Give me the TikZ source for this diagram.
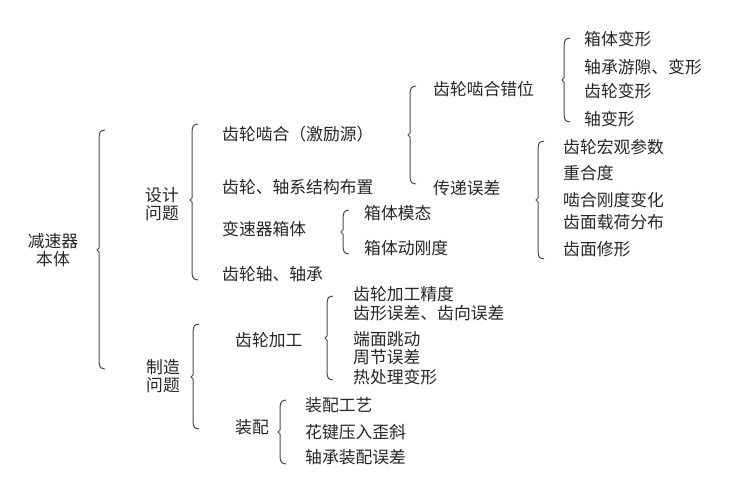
\documentclass[tikz,border=0pt]{standalone}
\usepackage{fontspec}
\newfontfamily\cjk{Noto Sans CJK SC}
\newcommand\hbrace[4]{\draw[brc] (#1+6,#2-2) .. controls (#1+1,#2-1) .. (#1,#2+5) -- (#1,#3-2) -- (#1-2,#3) -- (#1,#3+2) -- (#1,#4-5) .. controls (#1+1,#4+1) .. (#1+6,#4+2);}
\tikzset{
  lbl/.style={anchor=west,inner sep=0pt,text=black!85,font=\cjk\fontsize{16.8}{18}\selectfont},
  ctr/.style={anchor=center,inner sep=0pt,text=black!85,font=\cjk\fontsize{16.8}{18}\selectfont},
  brc/.style={draw=black!70,line width=1pt}
}
\begin{document}
\begin{tikzpicture}[x=1pt,y=-1pt]
\useasboundingbox[fill=white] (0,0) rectangle (733,482);
% level 0
\node[ctr] (root) at (53,241) {减速器};
\node[ctr] (root2) at (53,259) {本体};
\hbrace{99}{132}{250}{367}
% level 1
\node[ctr] (des) at (162,195) {设计};
\node[ctr] (des2) at (162,213) {问题};
\node[ctr] (man) at (163,367) {制造};
\node[ctr] (man2) at (163,385) {问题};
\hbrace{192}{126}{200}{278}
\hbrace{193}{326}{377}{427}
% design items
\node[lbl] (d1) at (222,134) {齿轮啮合（激励源）};
\node[lbl] (d2) at (222,187) {齿轮、轴系结构布置};
\node[lbl] (d3) at (222,229) {变速器箱体};
\node[lbl] (d4) at (222,274) {齿轮轴、轴承};
% mesh subitems
\hbrace{410}{88}{135}{182}
\node[lbl] (m1) at (433,89) {齿轮啮合错位};
\node[lbl] (m2) at (433,188) {传递误差};
\hbrace{564}{40}{80}{120}
\node[lbl] (a1) at (584,39) {箱体变形};
\node[lbl] (a2) at (584,67) {轴承游隙、变形};
\node[lbl] (a3) at (584,91) {齿轮变形};
\node[lbl] (a4) at (584,119) {轴变形};
\hbrace{538}{143}{200}{257}
\node[lbl] (b1) at (563,147) {齿轮宏观参数};
\node[lbl] (b2) at (563,173) {重合度};
\node[lbl] (b3) at (563,200) {啮合刚度变化};
\node[lbl] (b4) at (563,222) {齿面载荷分布};
\node[lbl] (b5) at (563,249) {齿面修形};
% box subitems
\hbrace{343}{212}{232}{252}
\node[lbl] (c1) at (364,213) {箱体模态};
\node[lbl] (c2) at (364,248) {箱体动刚度};
% manufacturing
\node[lbl] (g0) at (235,340) {齿轮加工};
\hbrace{327}{298}{338}{378}
\node[lbl] (g1) at (353,294) {齿轮加工精度};
\node[lbl] (g2) at (353,313) {齿形误差、齿向误差};
\node[lbl] (g3) at (353,339) {端面跳动};
\node[lbl] (g4) at (353,357) {周节误差};
\node[lbl] (g5) at (353,377) {热处理变形};
\node[lbl] (z0) at (235,427) {装配};
\hbrace{280}{402}{432}{462}
\node[lbl] (z1) at (305,405) {装配工艺};
\node[lbl] (z2) at (305,432) {花键压入歪斜};
\node[lbl] (z3) at (305,457) {轴承装配误差};
\end{tikzpicture}
\end{document}
